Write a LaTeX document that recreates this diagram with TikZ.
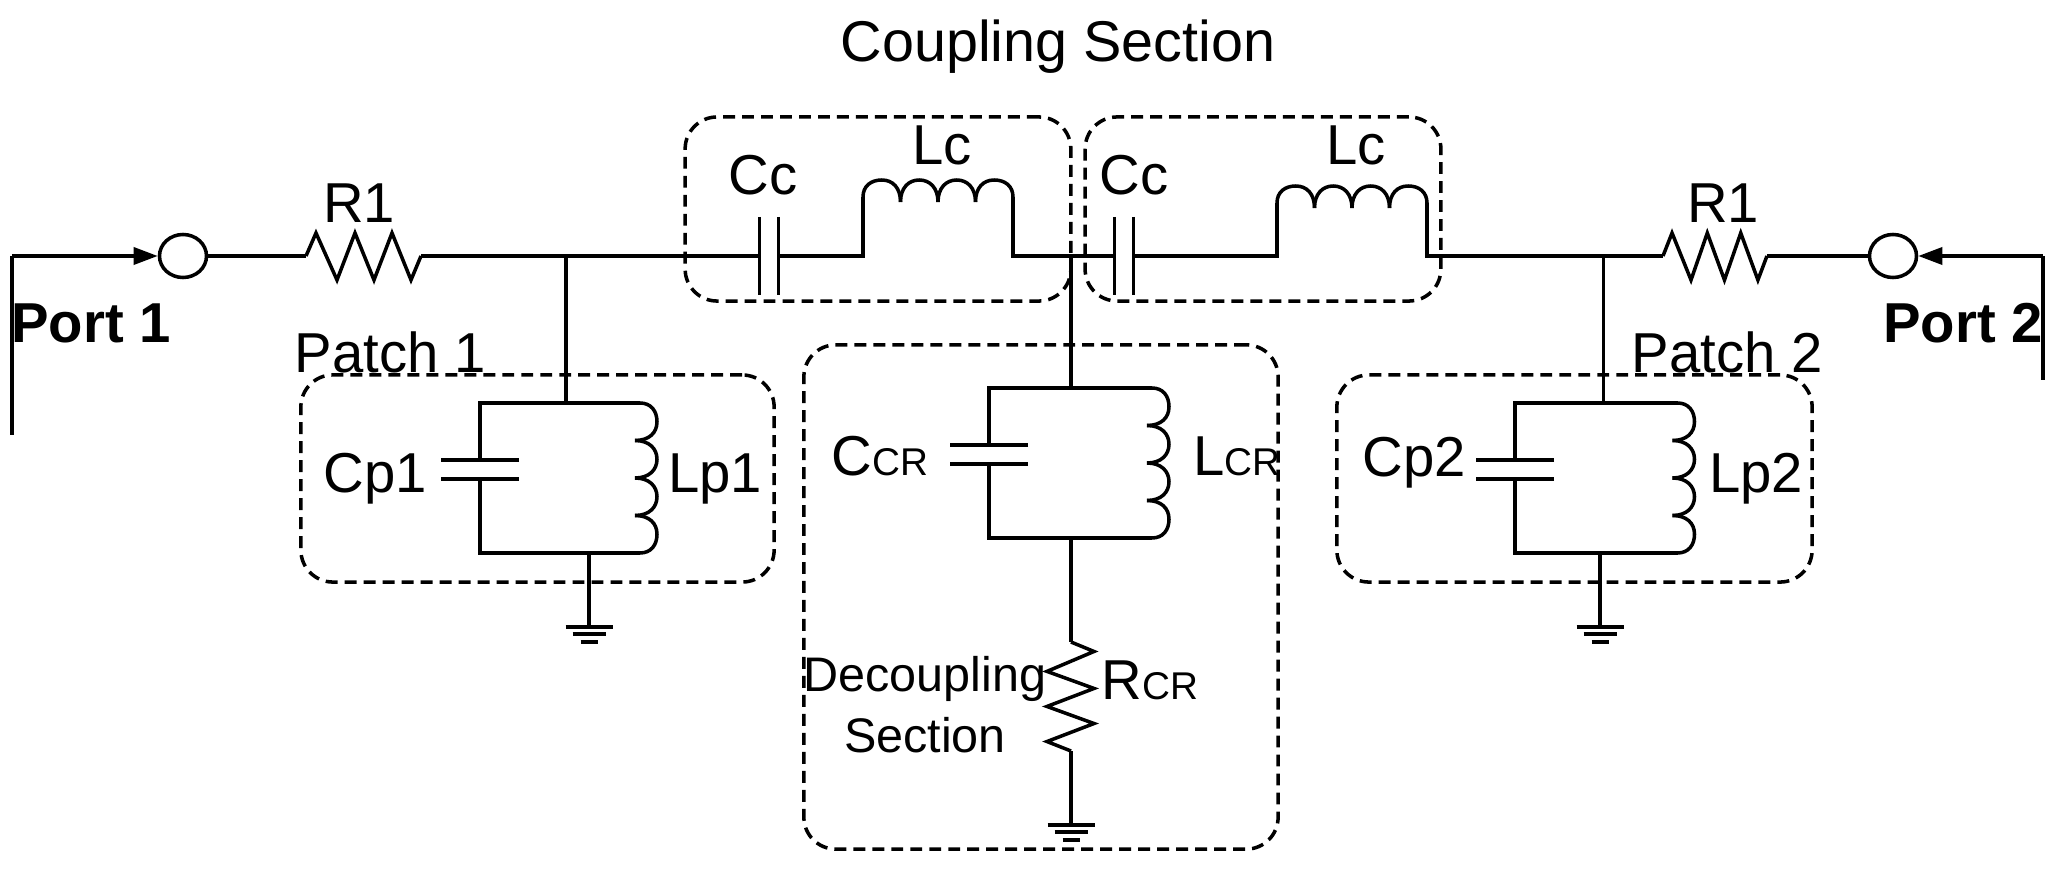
\documentclass[tikz,border=0pt]{standalone}
\usepackage{fontspec}
\setmainfont{Liberation Sans}
\usetikzlibrary{arrows.meta,shapes.geometric}
\newcommand{\crfont}{\fontsize{11}{12}\selectfont}
\tikzset{
  lbl/.style={inner sep=0pt,anchor=base,font=\fontsize{16}{18}\selectfont},
  smallLbl/.style={inner sep=0pt,anchor=base,font=\fontsize{13.8}{16}\selectfont},
  portLbl/.style={inner sep=0pt,anchor=base,font=\fontsize{16}{18}\selectfont\bfseries},
  dashBox/.style={draw,inner sep=0pt,rounded corners=.32cm,dash pattern=on 3.4pt off 2pt},
  portNode/.style={draw,ellipse,inner sep=0pt,minimum width=.47cm,minimum height=.43cm},
  pics/resistor/.style={code={
    \coordinate (-in) at (0,0);
    \coordinate (-out) at (115,0);
    \path[draw] (0,0) -- (10,-23) -- (31,24) -- (49,-23) -- (68,24) -- (86,-23) -- (105,24) -- (115,0);
  }},
  pics/capacitor/.style={code={
    \coordinate (-a) at (0,0);
    \coordinate (-b) at (19,0);
    \path[draw] (0,-39) -- (0,39);
    \path[draw] (19,-39) -- (19,39);
  }},
  pics/coil/.style={code={
    \coordinate (-in) at (0,0);
    \coordinate (-out) at (150,0);
    \path[draw] (0,0) .. controls (0,-11) and (8,-17) .. (18.75,-17) .. controls (30,-17) and (37.5,-9) .. (37.5,5);
    \foreach \k in {37.5,75}
      \path[draw] (\k,5) .. controls (\k,-9) and (\k+8,-17) .. (\k+18.75,-17) .. controls (\k+29.5,-17) and (\k+37.5,-9) .. (\k+37.5,5);
    \path[draw] (112.5,5) .. controls (112.5,-9) and (120,-17) .. (131.25,-17) .. controls (142,-17) and (150,-11) .. (150,0);
  }},
  pics/ground/.style={code={
    \coordinate (-top) at (0,0);
    \path[draw] (-23.5,0) -- (23.5,0);
    \path[draw] (-16.5,7) -- (16.5,7);
    \path[draw] (-8.5,15) -- (8.5,15);
  }}
}
\begin{document}
\begin{tikzpicture}[x=.01cm,y=-.01cm,line width=1pt,>={Triangle[length=2.4mm,width=1.7mm]}]
\useasboundingbox (0,0) rectangle (2059,870);
% dashed sections
\draw (878,209) node[dashBox,minimum width=3.855cm,minimum height=1.84cm] (couplingLeft) {};
\draw (1263,209) node[dashBox,minimum width=3.556cm,minimum height=1.84cm] (couplingRight) {};
\draw (537.5,478.5) node[dashBox,minimum width=4.73cm,minimum height=2.07cm] (patchOneBox) {};
\draw (1041,597) node[dashBox,minimum width=4.74cm,minimum height=5.04cm] (decouplingBox) {};
\draw (1574.5,478.5) node[dashBox,minimum width=4.75cm,minimum height=2.07cm] (patchTwoBox) {};
%
\coordinate (portOneEnd) at (12,435);
\coordinate (portOneTop) at (12,256);
\coordinate (portTwoEnd) at (2043,380);
\coordinate (portTwoTop) at (2043,256);
\coordinate (jointOne) at (566,256);
\coordinate (jointMid) at (1071,256);
\coordinate (jointTwo) at (1603.5,256);
\draw (183,256) node[portNode] (portOne) {};
\draw (1893,256) node[portNode] (portTwo) {};
%
\path (306,256) pic (resOne) {resistor};
\path (1663,256) pic[xscale=.904] (resTwo) {resistor};
\path (759.5,256) pic (ccLeft) {capacitor};
\path (1114.5,256) pic (ccRight) {capacitor};
\path (863,197) pic (lcLeft) {coil};
\path (1277,203) pic (lcRight) {coil};
%
\path[draw] (portOneEnd) -- (portOneTop);
\path[draw,->] (portOneTop) -- (portOne);
\path[draw] (portOne) -- (resOne-in);
\path[draw] (resOne-out) -- (jointOne);
\path[draw] (jointOne) -- (ccLeft-a);
\path[draw] (ccLeft-b) -| (lcLeft-in);
\path[draw] (lcLeft-out) |- (jointMid);
\path[draw] (jointMid) -- (ccRight-a);
\path[draw] (ccRight-b) -| (lcRight-in);
\path[draw] (lcRight-out) |- (jointTwo);
\path[draw] (jointTwo) -- (resTwo-in);
\path[draw] (resTwo-out) -- (portTwo);
\path[draw,->] (portTwoTop) -- (portTwo);
\path[draw] (portTwoEnd) -- (portTwoTop);
% patch 1
\path (480,460) pic[rotate=-90] (cpOne) {capacitor};
\path (640,403) pic[rotate=-90] (lpOne) {coil};
\path (589,627) pic (gndOne) {ground};
\path[draw] (jointOne) -- (jointOne |- lpOne-in);
\path[draw] (cpOne-a) |- (lpOne-in);
\path[draw] (cpOne-b) |- (lpOne-out);
\path[draw] (gndOne-top) -- (gndOne-top |- lpOne-out);
% decoupling
\path (989,445) pic[rotate=-90] (ccr) {capacitor};
\path (1152,388) pic[rotate=-90] (lcr) {coil};
\path (1071,642) pic[rotate=-90,xscale=.948] (rcr) {resistor};
\path (1071,825) pic (gndMid) {ground};
\path[draw] (jointMid) -- (jointMid |- lcr-in);
\path[draw] (ccr-a) |- (lcr-in);
\path[draw] (ccr-b) |- (lcr-out);
\path[draw] (rcr-in) -- (rcr-in |- lcr-out);
\path[draw] (rcr-out) -- (gndMid-top);
% patch 2
\path (1515,460) pic[rotate=-90] (cpTwo) {capacitor};
\path (1677.5,403) pic[rotate=-90] (lpTwo) {coil};
\path (1600,627) pic (gndTwo) {ground};
\path[draw] (jointTwo) -- (jointTwo |- lpTwo-in);
\path[draw] (cpTwo-a) |- (lpTwo-in);
\path[draw] (cpTwo-b) |- (lpTwo-out);
\path[draw] (gndTwo-top) -- (gndTwo-top |- lpTwo-out);
% labels
\draw (1058,62) node[lbl,font=\fontsize{16.35}{18}\selectfont] (couplingLbl) {Coupling Section};
\draw (91,343) node[portLbl] (portOneLbl) {Port 1};
\draw (1963,343) node[portLbl] (portTwoLbl) {Port 2};
\draw (359,223) node[lbl] (resOneLbl) {R1};
\draw (1723,223) node[lbl] (resTwoLbl) {R1};
\draw (763,195) node[lbl] (ccLeftLbl) {Cc};
\draw (1134,195) node[lbl] (ccRightLbl) {Cc};
\draw (942,165) node[lbl] (lcLeftLbl) {Lc};
\draw (1356,165) node[lbl] (lcRightLbl) {Lc};
\draw (390,373) node[lbl] (patchOneLbl) {Patch 1};
\draw (1727,373) node[lbl] (patchTwoLbl) {Patch 2};
\draw (375,492) node[lbl] (cpOneLbl) {Cp1};
\draw (715,492) node[lbl] (lpOneLbl) {Lp1};
\draw (1414,477) node[lbl] (cpTwoLbl) {Cp2};
\draw (1756,492) node[lbl] (lpTwoLbl) {Lp2};
\draw (880,476) node[lbl] (ccrLbl) {C{\crfont CR}};
\draw (1237,476) node[lbl] (lcrLbl) {L{\crfont CR}};
\draw (1150,699) node[lbl] (rcrLbl) {R{\crfont CR}};
\draw (925,692) node[smallLbl] (decouplingLbl) {Decoupling};
\draw (925,752) node[smallLbl] (sectionLbl) {Section};
\end{tikzpicture}
\end{document}
